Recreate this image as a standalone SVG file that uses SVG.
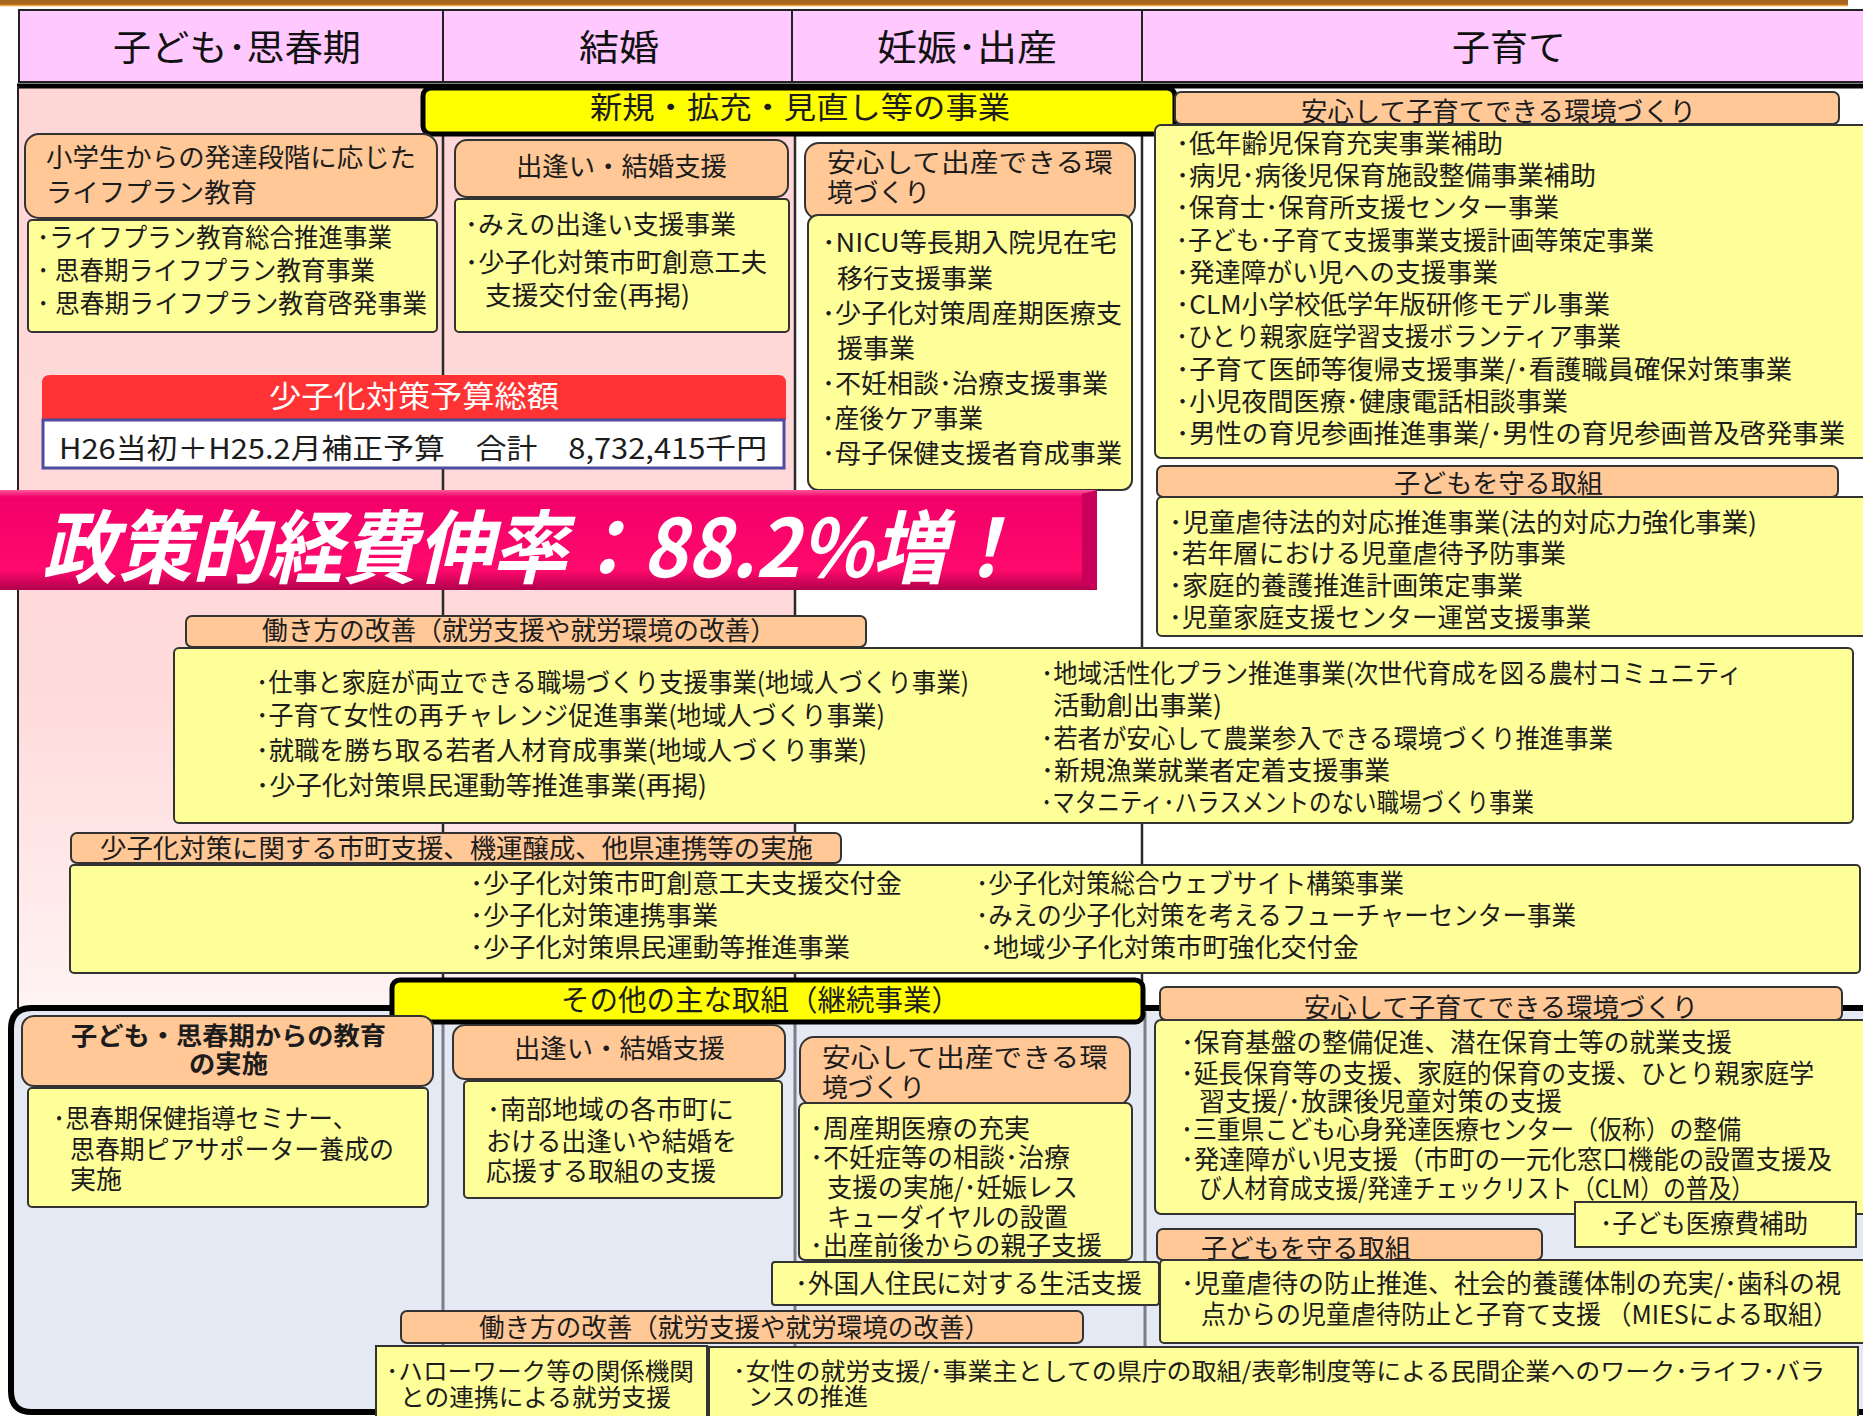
<svg xmlns="http://www.w3.org/2000/svg" width="1863" height="1416" viewBox="0 0 1863 1416">
<defs>
<linearGradient id="pinkbg" x1="0" y1="0" x2="0" y2="1">
<stop offset="0" stop-color="#FFD6D6"/><stop offset="0.65" stop-color="#FFDADA"/><stop offset="1" stop-color="#FFF3F3"/>
</linearGradient>
<linearGradient id="bannerg" x1="0" y1="0" x2="0" y2="1">
<stop offset="0" stop-color="#FF5A9A"/><stop offset="0.07" stop-color="#F2006A"/><stop offset="0.8" stop-color="#FF0A6C"/><stop offset="1" stop-color="#B0004C"/>
</linearGradient>
<style>
.t{font-family:"Noto Sans CJK JP","Noto Sans CJK SC",sans-serif;font-size:26px;fill:#1c1c1c}
.s{font-size:24px}
.hd{font-family:"Noto Sans CJK JP","Noto Sans CJK SC",sans-serif;font-size:36px;fill:#111}
.tt{font-family:"Noto Sans CJK JP","Noto Sans CJK SC",sans-serif;font-size:30px;fill:#1c1c1c}
.or{fill:#FFC896;stroke:#333;stroke-width:2}
.yl{fill:#FFFF99;stroke:#333;stroke-width:2}
.ttl{fill:#FFFF00;stroke:#000;stroke-width:5}
.dv{stroke:#2a2a2a;stroke-width:2.5}
.dvl{stroke:#7a7e88;stroke-width:3}
</style>
</defs>

<rect x="0" y="0" width="1863" height="1416" fill="#ffffff"/>
<rect x="0" y="0" width="1848" height="5" fill="#A8661C"/>
<line x1="0" y1="5.5" x2="1848" y2="5.5" stroke="#F0A448" stroke-width="1.5"/>
<rect x="18" y="86" width="777" height="922" fill="url(#pinkbg)"/>

<g id="header">
<rect x="19" y="10" width="1860" height="72" fill="#FFC8FF" stroke="#222" stroke-width="2"/>
<line x1="443" y1="10" x2="443" y2="82" stroke="#222" stroke-width="2"/>
<line x1="792" y1="10" x2="792" y2="82" stroke="#222" stroke-width="2"/>
<line x1="1142" y1="10" x2="1142" y2="82" stroke="#222" stroke-width="2"/>
<text class="hd" x="113" y="61" textLength="248" lengthAdjust="spacingAndGlyphs">子ども･思春期</text>
<text class="hd" x="579" y="61" textLength="80" lengthAdjust="spacingAndGlyphs">結婚</text>
<text class="hd" x="877" y="61" textLength="180" lengthAdjust="spacingAndGlyphs">妊娠･出産</text>
<text class="hd" x="1452" y="61" textLength="114" lengthAdjust="spacingAndGlyphs">子育て</text>
</g>

<g id="frames">
<line x1="17" y1="86" x2="1863" y2="86" stroke="#000" stroke-width="5"/>
<line x1="18" y1="86" x2="18" y2="1008" stroke="#222" stroke-width="2"/>
<line class="dv" x1="443" y1="86" x2="443" y2="1008"/>
<line class="dv" x1="795" y1="86" x2="795" y2="1008"/>
<line class="dv" x1="1142" y1="86" x2="1142" y2="1008"/>
<path d="M1875 1008 H32 Q11 1008 11 1029 V1391 Q11 1412 32 1412 H1875" fill="#E4E9F3" stroke="#000" stroke-width="6"/>
<line class="dvl" x1="443" y1="1012" x2="443" y2="1410"/>
<line class="dvl" x1="795" y1="1012" x2="795" y2="1410"/>
<line class="dvl" x1="1145" y1="1012" x2="1145" y2="1410"/>
</g>

<g id="title-new">
<rect class="ttl" x="423" y="88" width="752" height="46" rx="8"/>
<text class="tt" x="590" y="118" textLength="420" lengthAdjust="spacingAndGlyphs">新規・拡充・見直し等の事業</text>
</g>

<g id="u-col1">
<rect class="or" x="25" y="134" width="412" height="84" rx="14"/>
<text class="t" x="46" y="167" textLength="370" lengthAdjust="spacingAndGlyphs">小学生からの発達段階に応じた</text>
<text class="t" x="46" y="202" textLength="211" lengthAdjust="spacingAndGlyphs">ライフプラン教育</text>
<rect class="yl" x="28" y="220" width="409" height="112" rx="4"/>
<text class="t" x="37" y="247" textLength="355" lengthAdjust="spacingAndGlyphs">･ライフプラン教育総合推進事業</text>
<text class="t" x="37" y="280" textLength="338" lengthAdjust="spacingAndGlyphs">･ 思春期ライフプラン教育事業</text>
<text class="t" x="37" y="313" textLength="390" lengthAdjust="spacingAndGlyphs">･ 思春期ライフプラン教育啓発事業</text>
</g>

<g id="u-col2">
<rect class="or" x="455" y="140" width="333" height="57" rx="12"/>
<text class="t" x="516" y="176" textLength="211" lengthAdjust="spacingAndGlyphs">出逢い・結婚支援</text>
<rect class="yl" x="455" y="199" width="334" height="133" rx="4"/>
<text class="t" x="465" y="234" textLength="271" lengthAdjust="spacingAndGlyphs">･みえの出逢い支援事業</text>
<text class="t" x="465" y="272" textLength="302" lengthAdjust="spacingAndGlyphs">･少子化対策市町創意工夫</text>
<text class="t" x="485" y="305" textLength="205" lengthAdjust="spacingAndGlyphs">支援交付金(再掲)</text>
</g>

<g id="u-col3">
<rect class="or" x="805" y="143" width="330" height="76" rx="14"/>
<text class="t" x="827" y="172" textLength="286" lengthAdjust="spacingAndGlyphs">安心して出産できる環</text>
<text class="t" x="827" y="202" textLength="103" lengthAdjust="spacingAndGlyphs">境づくり</text>
<rect class="yl" x="808" y="215" width="324" height="275" rx="10"/>
<text class="t" x="822" y="252" textLength="295" lengthAdjust="spacingAndGlyphs">･NICU等長期入院児在宅</text>
<text class="t" x="837" y="288" textLength="156" lengthAdjust="spacingAndGlyphs">移行支援事業</text>
<text class="t" x="822" y="323" textLength="300" lengthAdjust="spacingAndGlyphs">･少子化対策周産期医療支</text>
<text class="t" x="837" y="358" textLength="78" lengthAdjust="spacingAndGlyphs">援事業</text>
<text class="t" x="822" y="393" textLength="286" lengthAdjust="spacingAndGlyphs">･不妊相談･治療支援事業</text>
<text class="t" x="822" y="428" textLength="161" lengthAdjust="spacingAndGlyphs">･産後ケア事業</text>
<text class="t" x="822" y="463" textLength="300" lengthAdjust="spacingAndGlyphs">･母子保健支援者育成事業</text>
</g>

<g id="u-col4-env">
<rect class="or" x="1175" y="92" width="664" height="32" rx="6"/>
<text class="t" x="1301" y="121" textLength="395" lengthAdjust="spacingAndGlyphs">安心して子育てできる環境づくり</text>
<rect class="yl" x="1155" y="125" width="720" height="333" rx="6"/>
<text class="t" x="1176" y="153" textLength="327" lengthAdjust="spacingAndGlyphs">･低年齢児保育充実事業補助</text>
<text class="t" x="1176" y="185" textLength="420" lengthAdjust="spacingAndGlyphs">･病児･病後児保育施設整備事業補助</text>
<text class="t" x="1176" y="217" textLength="383" lengthAdjust="spacingAndGlyphs">･保育士･保育所支援センター事業</text>
<text class="t" x="1176" y="250" textLength="478" lengthAdjust="spacingAndGlyphs">･子ども･子育て支援事業支援計画等策定事業</text>
<text class="t" x="1176" y="282" textLength="322" lengthAdjust="spacingAndGlyphs">･発達障がい児への支援事業</text>
<text class="t" x="1176" y="314" textLength="434" lengthAdjust="spacingAndGlyphs">･CLM小学校低学年版研修モデル事業</text>
<text class="t" x="1176" y="346" textLength="445" lengthAdjust="spacingAndGlyphs">･ひとり親家庭学習支援ボランティア事業</text>
<text class="t" x="1176" y="379" textLength="616" lengthAdjust="spacingAndGlyphs">･子育て医師等復帰支援事業/･看護職員確保対策事業</text>
<text class="t" x="1176" y="411" textLength="392" lengthAdjust="spacingAndGlyphs">･小児夜間医療･健康電話相談事業</text>
<text class="t" x="1176" y="443" textLength="669" lengthAdjust="spacingAndGlyphs">･男性の育児参画推進事業/･男性の育児参画普及啓発事業</text>
</g>

<g id="u-col4-protect">
<rect class="or" x="1157" y="466" width="681" height="31" rx="6"/>
<text class="t" x="1394" y="493" textLength="209" lengthAdjust="spacingAndGlyphs">子どもを守る取組</text>
<rect class="yl" x="1157" y="497" width="720" height="139" rx="5"/>
<text class="t" x="1169" y="532" textLength="588" lengthAdjust="spacingAndGlyphs">･児童虐待法的対応推進事業(法的対応力強化事業)</text>
<text class="t" x="1169" y="563" textLength="397" lengthAdjust="spacingAndGlyphs">･若年層における児童虐待予防事業</text>
<text class="t" x="1169" y="595" textLength="354" lengthAdjust="spacingAndGlyphs">･家庭的養護推進計画策定事業</text>
<text class="t" x="1169" y="627" textLength="422" lengthAdjust="spacingAndGlyphs">･児童家庭支援センター運営支援事業</text>
</g>

<g id="budget">
<path d="M42 420 V383 Q42 375 50 375 H778 Q786 375 786 383 V420 Z" fill="#FF3333"/>
<text class="tt" x="269" y="407" style="fill:#ffffff" textLength="290" lengthAdjust="spacingAndGlyphs">少子化対策予算総額</text>
<rect x="43" y="420" width="741" height="48" fill="#ffffff" stroke="#4B4BA0" stroke-width="3"/>
<text class="t" x="59" y="459" style="font-size:28px" textLength="708" lengthAdjust="spacingAndGlyphs">H26当初＋H25.2月補正予算　合計　8,732,415千円</text>
</g>

<g id="banner">
<rect x="-5" y="490" width="1102" height="100" fill="url(#bannerg)"/>
<polygon points="1082,494 1097,490 1097,590 1082,584" fill="#C8005A"/>
<text x="42" y="577" textLength="980" lengthAdjust="spacingAndGlyphs" style="font-family:'Noto Sans CJK JP','Noto Sans CJK SC',sans-serif;font-size:80px;font-weight:bold;font-style:italic;fill:#ffffff">政策的経費伸率：88.2%増！</text>
</g>

<g id="u-work">
<rect class="or" x="186" y="616" width="680" height="31" rx="6"/>
<text class="t" x="262" y="640" textLength="514" lengthAdjust="spacingAndGlyphs">働き方の改善（就労支援や就労環境の改善）</text>
<rect class="yl" x="174" y="648" width="1679" height="175" rx="5"/>
<text class="t" x="256" y="692" textLength="713" lengthAdjust="spacingAndGlyphs">･仕事と家庭が両立できる職場づくり支援事業(地域人づくり事業)</text>
<text class="t" x="256" y="725" textLength="629" lengthAdjust="spacingAndGlyphs">･子育て女性の再チャレンジ促進事業(地域人づくり事業)</text>
<text class="t" x="256" y="760" textLength="611" lengthAdjust="spacingAndGlyphs">･就職を勝ち取る若者人材育成事業(地域人づくり事業)</text>
<text class="t" x="256" y="795" textLength="451" lengthAdjust="spacingAndGlyphs">･少子化対策県民運動等推進事業(再掲)</text>
<text class="t" x="1041" y="683" textLength="701" lengthAdjust="spacingAndGlyphs">･地域活性化プラン推進事業(次世代育成を図る農村コミュニティ</text>
<text class="t" x="1053" y="715" textLength="169" lengthAdjust="spacingAndGlyphs">活動創出事業)</text>
<text class="t" x="1041" y="748" textLength="572" lengthAdjust="spacingAndGlyphs">･若者が安心して農業参入できる環境づくり推進事業</text>
<text class="t" x="1041" y="780" textLength="349" lengthAdjust="spacingAndGlyphs">･新規漁業就業者定着支援事業</text>
<text class="t" x="1041" y="812" textLength="493" lengthAdjust="spacingAndGlyphs">･マタニティ･ハラスメントのない職場づくり事業</text>
</g>

<g id="u-municipal">
<rect class="or" x="71" y="833" width="770" height="30" rx="6"/>
<text class="t" x="100" y="858" textLength="713" lengthAdjust="spacingAndGlyphs">少子化対策に関する市町支援、機運醸成、他県連携等の実施</text>
<rect class="yl" x="70" y="865" width="1790" height="108" rx="4"/>
<text class="t" x="470" y="893" textLength="432" lengthAdjust="spacingAndGlyphs">･少子化対策市町創意工夫支援交付金</text>
<text class="t" x="470" y="925" textLength="248" lengthAdjust="spacingAndGlyphs">･少子化対策連携事業</text>
<text class="t" x="470" y="957" textLength="380" lengthAdjust="spacingAndGlyphs">･少子化対策県民運動等推進事業</text>
<text class="t" x="976" y="893" textLength="428" lengthAdjust="spacingAndGlyphs">･少子化対策総合ウェブサイト構築事業</text>
<text class="t" x="976" y="925" textLength="600" lengthAdjust="spacingAndGlyphs">･みえの少子化対策を考えるフューチャーセンター事業</text>
<text class="t" x="980" y="957" textLength="379" lengthAdjust="spacingAndGlyphs">･地域少子化対策市町強化交付金</text>
</g>

<g id="title-other">
<rect class="ttl" x="392" y="980" width="751" height="42" rx="8"/>
<text class="tt" x="561" y="1011" style="font-size:29px" textLength="399" lengthAdjust="spacingAndGlyphs">その他の主な取組（継続事業）</text>
</g>

<g id="l-col1">
<rect class="or" x="22" y="1016" width="411" height="70" rx="12"/>
<text class="t" x="71" y="1045" style="font-size:25px;font-weight:bold" textLength="315" lengthAdjust="spacingAndGlyphs">子ども・思春期からの教育</text>
<text class="t" x="189" y="1073" style="font-size:25px;font-weight:bold" textLength="79" lengthAdjust="spacingAndGlyphs">の実施</text>
<rect class="yl" x="28" y="1088" width="400" height="119" rx="4"/>
<text class="t" x="53" y="1128" textLength="304" lengthAdjust="spacingAndGlyphs">･思春期保健指導セミナー、</text>
<text class="t" x="70" y="1159" textLength="324" lengthAdjust="spacingAndGlyphs">思春期ピアサポーター養成の</text>
<text class="t" x="70" y="1189" textLength="52" lengthAdjust="spacingAndGlyphs">実施</text>
</g>

<g id="l-col2">
<rect class="or" x="453" y="1025" width="332" height="54" rx="12"/>
<text class="t" x="514" y="1058" textLength="211" lengthAdjust="spacingAndGlyphs">出逢い・結婚支援</text>
<rect class="yl" x="464" y="1081" width="318" height="117" rx="4"/>
<text class="t" x="487" y="1119" textLength="247" lengthAdjust="spacingAndGlyphs">･南部地域の各市町に</text>
<text class="t" x="486" y="1151" textLength="251" lengthAdjust="spacingAndGlyphs">おける出逢いや結婚を</text>
<text class="t" x="486" y="1181" textLength="230" lengthAdjust="spacingAndGlyphs">応援する取組の支援</text>
</g>

<g id="l-col3">
<rect class="or" x="800" y="1037" width="330" height="68" rx="14"/>
<text class="t" x="822" y="1067" textLength="286" lengthAdjust="spacingAndGlyphs">安心して出産できる環</text>
<text class="t" x="822" y="1097" textLength="103" lengthAdjust="spacingAndGlyphs">境づくり</text>
<rect class="yl" x="799" y="1103" width="333" height="157" rx="6"/>
<text class="t" x="810" y="1138" textLength="220" lengthAdjust="spacingAndGlyphs">･周産期医療の充実</text>
<text class="t" x="810" y="1167" textLength="260" lengthAdjust="spacingAndGlyphs">･不妊症等の相談･治療</text>
<text class="t" x="827" y="1197" textLength="251" lengthAdjust="spacingAndGlyphs">支援の実施/･妊娠レス</text>
<text class="t" x="827" y="1227" textLength="241" lengthAdjust="spacingAndGlyphs">キューダイヤルの設置</text>
<text class="t" x="810" y="1255" textLength="292" lengthAdjust="spacingAndGlyphs">･出産前後からの親子支援</text>
</g>

<g id="l-foreign">
<rect class="yl" x="772" y="1262" width="387" height="43" rx="3"/>
<text class="t" x="795" y="1293" textLength="347" lengthAdjust="spacingAndGlyphs">･外国人住民に対する生活支援</text>
</g>

<g id="l-col4-env">
<rect class="or" x="1160" y="987" width="682" height="33" rx="6"/>
<text class="t" x="1304" y="1017" textLength="394" lengthAdjust="spacingAndGlyphs">安心して子育てできる環境づくり</text>
<rect class="yl" x="1155" y="1020" width="720" height="194" rx="6"/>
<text class="t" x="1181" y="1052" textLength="551" lengthAdjust="spacingAndGlyphs">･保育基盤の整備促進、潜在保育士等の就業支援</text>
<text class="t" x="1181" y="1083" textLength="633" lengthAdjust="spacingAndGlyphs">･延長保育等の支援、家庭的保育の支援、ひとり親家庭学</text>
<text class="t" x="1199" y="1111" textLength="363" lengthAdjust="spacingAndGlyphs">習支援/･放課後児童対策の支援</text>
<text class="t" x="1181" y="1139" textLength="560" lengthAdjust="spacingAndGlyphs">･三重県こども心身発達医療センター（仮称）の整備</text>
<text class="t" x="1181" y="1169" textLength="651" lengthAdjust="spacingAndGlyphs">･発達障がい児支援（市町の一元化窓口機能の設置支援及</text>
<text class="t" x="1199" y="1198" textLength="555" lengthAdjust="spacingAndGlyphs">び人材育成支援/発達チェックリスト（CLM）の普及）</text>
</g>

<g id="l-col4-protect">
<rect class="or" x="1157" y="1229" width="385" height="31" rx="6"/>
<text class="t" x="1201" y="1258" textLength="210" lengthAdjust="spacingAndGlyphs">子どもを守る取組</text>
<rect class="yl" x="1160" y="1260" width="720" height="83" rx="4"/>
<text class="t" x="1181" y="1293" textLength="660" lengthAdjust="spacingAndGlyphs">･児童虐待の防止推進、社会的養護体制の充実/･歯科の視</text>
<text class="t" x="1201" y="1324" textLength="637" lengthAdjust="spacingAndGlyphs">点からの児童虐待防止と子育て支援 （MIESによる取組）</text>
</g>

<g id="l-medical">
<rect class="yl" x="1575" y="1202" width="281" height="45"/>
<text class="t" x="1600" y="1233" textLength="208" lengthAdjust="spacingAndGlyphs">･子ども医療費補助</text>
</g>

<g id="l-work">
<rect class="or" x="401" y="1311" width="682" height="32" rx="6"/>
<text class="t" x="479" y="1337" textLength="511" lengthAdjust="spacingAndGlyphs">働き方の改善（就労支援や就労環境の改善）</text>
<rect class="yl" x="376" y="1346" width="331" height="72"/>
<text class="t s" x="386" y="1380" textLength="308" lengthAdjust="spacingAndGlyphs">･ハローワーク等の関係機関</text>
<text class="t s" x="400" y="1406" textLength="271" lengthAdjust="spacingAndGlyphs">との連携による就労支援</text>
<rect class="yl" x="709" y="1347" width="1149" height="71"/>
<text class="t s" x="733" y="1380" textLength="1092" lengthAdjust="spacingAndGlyphs">･女性の就労支援/･事業主としての県庁の取組/表彰制度等による民間企業へのワーク･ライフ･バラ</text>
<text class="t s" x="748" y="1405" textLength="120" lengthAdjust="spacingAndGlyphs">ンスの推進</text>
</g>
</svg>
